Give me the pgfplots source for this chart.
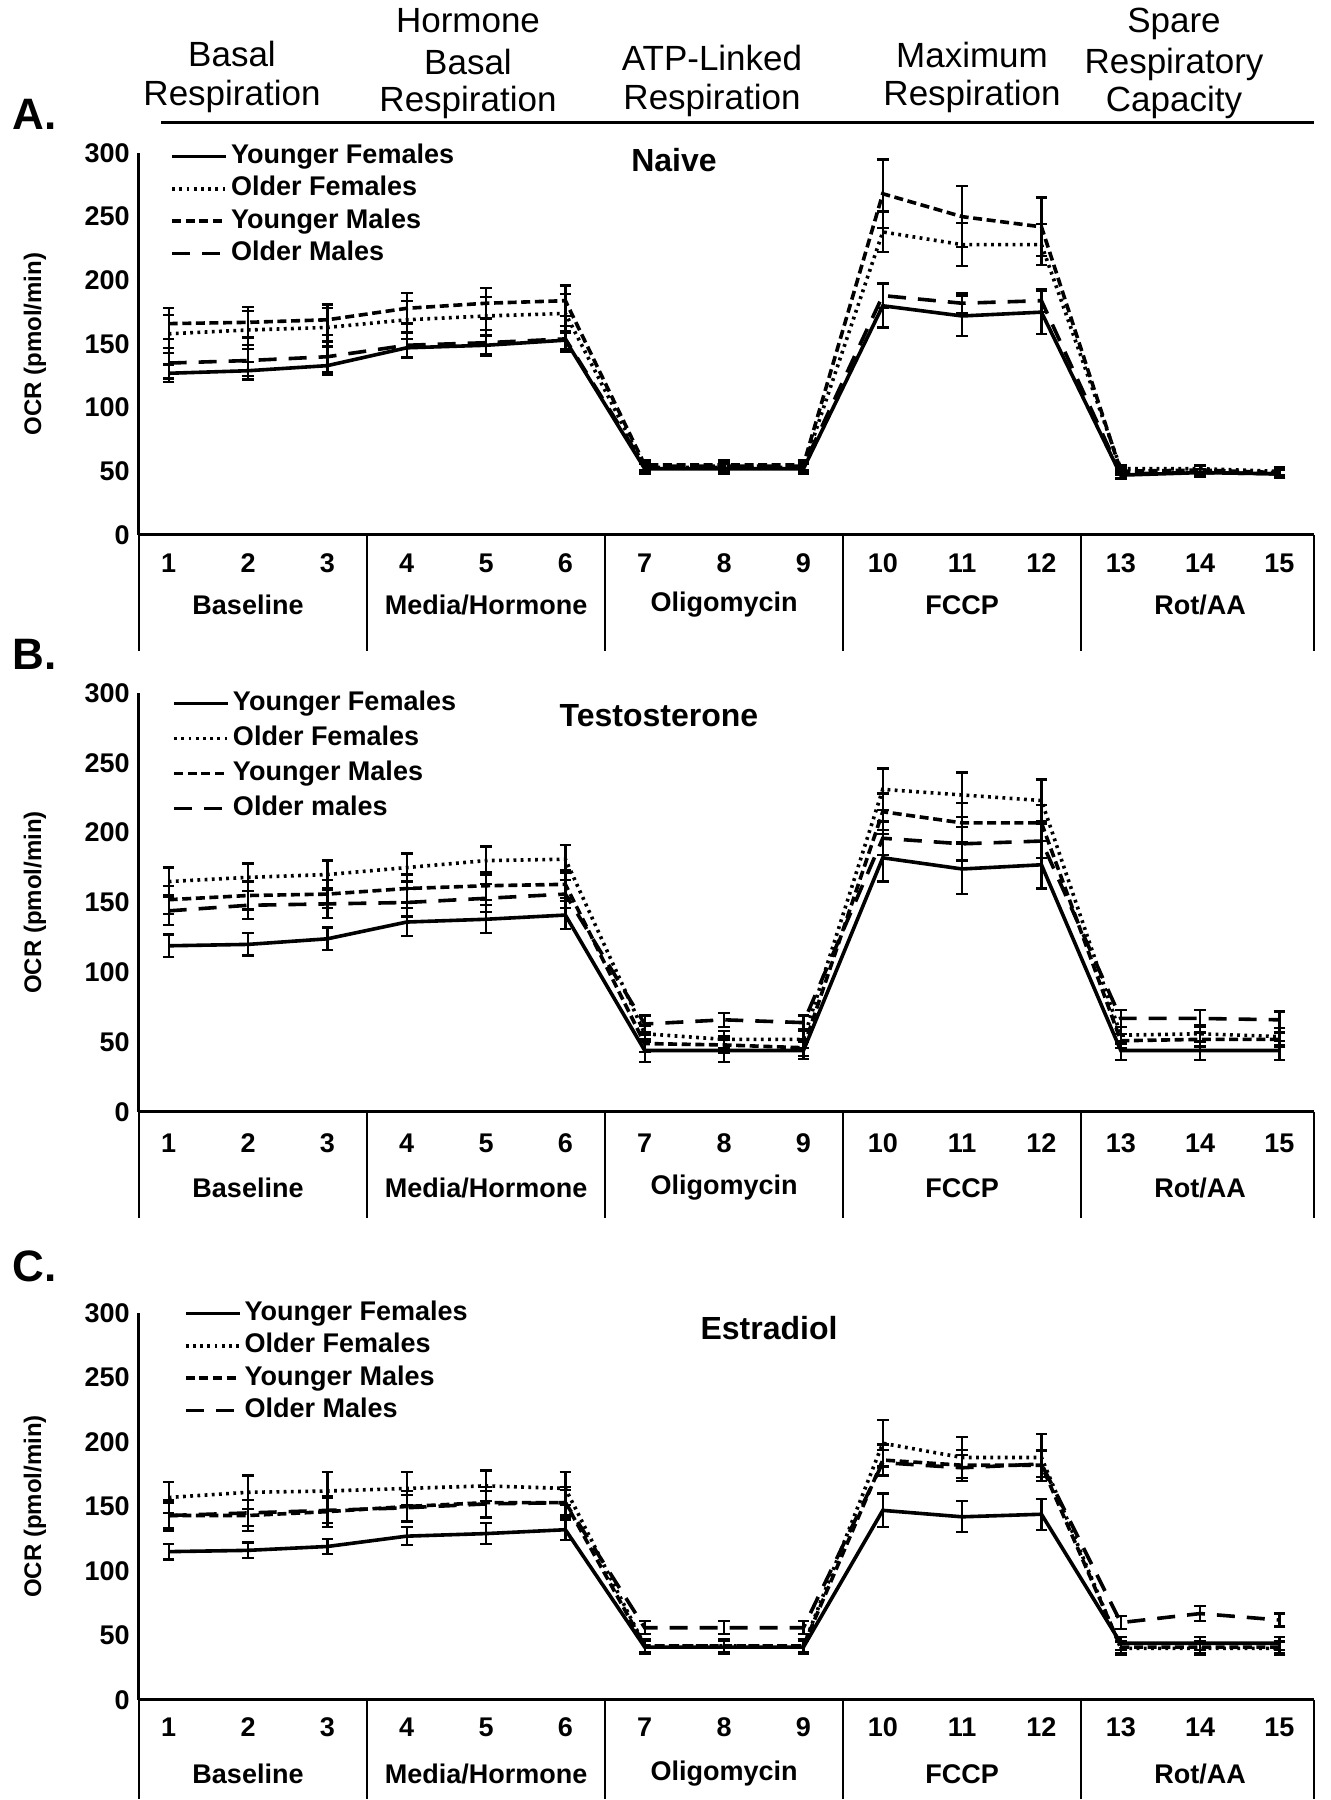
\documentclass[border=0pt]{standalone}
\usepackage{fontspec}
\setmainfont{Liberation Sans}
\usepackage{pgfplots}
\usepackage{pgfplotstable}
\pgfplotsset{compat=1.18}

\pgfplotstableread{
x  YF  eYF OF  eOF YM  eYM OM  eOM
1  127 7   158 15  166 12  135 12
2  129 7   161 15  167 12  137 12
3  133 7   163 15  169 12  140 12
4  147 7   169 15  178 12  149 10
5  149 7   172 15  182 12  151 10
6  153 7   174 15  184 12  154 10
7  52  4   53  4   55  4   54  4
8  52  4   53  4   55  4   54  4
9  52  4   53  4   55  4   54  4
10 180 17  238 16  268 27  188 10
11 172 16  228 17  250 24  182 8
12 175 17  228 16  242 23  184 9
13 47  3   52  3   50  3   48  3
14 49  3   52  3   51  3   49  3
15 48  3   50  3   49  3   48  3
}\dataA

\pgfplotstableread{
x  YF  eYF OF  eOF YM  eYM OM  eOM
1  119 8   165 10  152 10  144 10
2  120 8   168 10  155 10  148 10
3  124 8   170 10  156 10  149 10
4  136 10  175 10  160 10  150 10
5  138 10  180 10  162 10  153 10
6  141 10  181 10  163 10  156 10
7  44  8   56  6   49  6   63  6
8  44  8   52  6   48  6   66  5
9  44  6   52  6   46  6   64  5
10 182 17  231 15  215 13  196 12
11 174 18  227 16  207 14  192 12
12 177 17  223 15  207 13  194 12
13 44  7   55  6   51  5   67  6
14 44  7   56  6   52  5   67  6
15 44  7   54  6   52  5   66  6
}\dataB

\pgfplotstableread{
x  YF  eYF OF  eOF YM  eYM OM  eOM
1  115 6   157 12  143 12  143 10
2  116 6   161 13  143 12  145 10
3  119 6   162 15  146 12  147 10
4  127 7   164 13  150 12  149 10
5  129 8   166 12  153 12  152 10
6  132 8   164 13  153 12  153 10
7  41  5   42  5   42  5   56  5
8  41  5   42  5   42  5   56  5
9  41  5   42  5   42  5   56  5
10 147 13  199 18  186 12  184 10
11 142 12  188 16  182 12  180 10
12 144 12  188 18  182 12  183 10
13 44  5   40  5   41  5   60  5
14 44  5   40  5   41  5   67  6
15 44  5   40  5   41  5   62  5
}\dataC

\newcommand{\tickfont}{\bfseries\fontsize{13.5}{14}\selectfont}
\newcommand{\hdrfont}{\fontsize{17.5}{20}\selectfont}

\pgfplotsset{
  ocr/.style={
    scale only axis, width=587.5pt,
    xmin=0.626, xmax=15.435, ymin=0, ymax=300,
    axis x line=bottom, axis y line=left,
    axis line style={-, line width=1.5pt},
    xtick={1,...,15}, ytick={0,50,...,300},
    tick style={draw=none},
    /pgf/number format/assume math mode=true,
    ticklabel style={font=\tickfont},
    yticklabel style={xshift=1pt},
    xticklabel style={anchor=center},
    clip=false,
    ylabel={OCR (pmol/min)},
    every axis y label/.style={at={(axis description cs:-0.0885,0.5)}, anchor=center, rotate=90, font=\bfseries\fontsize{12}{12}\selectfont},
    legend cell align=left,
    legend image code/.code={\draw[##1] (0pt,0pt) -- (27pt,0pt);},
    error bars/y dir=both, error bars/y explicit,
    error bars/error bar style={solid, line width=1.15pt},
    error bars/error mark options={solid, rotate=90, mark size=2.9pt, line width=1.15pt},
  },
  lgd/.style n args={3}{legend style={at={(axis description cs:0,1)}, anchor=north west,
      xshift=#1, yshift=#2, draw=none, fill=none, inner sep=0pt, row sep=#3,
      font=\tickfont, nodes={inner xsep=1.5pt, inner ysep=0pt, text height=10pt, text depth=3pt}}},
  sYF/.style={line width=1.8pt, solid, no marks},
  sOF/.style={line width=1.8pt, dash pattern=on 1.4pt off 2.2pt, no marks},
  sYM/.style={line width=1.8pt, dash pattern=on 4.5pt off 2.3pt, no marks},
  sOM/.style={line width=1.8pt, dash pattern=on 9pt off 6pt, no marks},
}

\newcommand{\groups}[2]{%
  \draw[line width=1.3pt] (axis cs:0.626,0) -- ([yshift=-#1]axis cs:0.626,0);
  \draw[line width=1.3pt] (axis cs:3.5,0) -- ([yshift=-#1]axis cs:3.5,0);
  \draw[line width=1.3pt] (axis cs:6.5,0) -- ([yshift=-#1]axis cs:6.5,0);
  \draw[line width=1.3pt] (axis cs:9.5,0) -- ([yshift=-#1]axis cs:9.5,0);
  \draw[line width=1.3pt] (axis cs:12.5,0) -- ([yshift=-#1]axis cs:12.5,0);
  \draw[line width=1.3pt] (axis cs:15.435,0) -- ([yshift=-#1]axis cs:15.435,0);
  \node[font=\tickfont] at ([yshift=-#2]axis cs:2,0) {Baseline};
  \node[font=\tickfont] at ([yshift=-#2]axis cs:5,0) {Media/Hormone};
  \node[font=\tickfont] at ([yshift=-#2]axis cs:8,0) {Oligomycin};
  \node[font=\tickfont] at ([yshift=-#2]axis cs:11,0) {FCCP};
  \node[font=\tickfont] at ([yshift=-#2]axis cs:14,0) {Rot/AA};
}

\newcommand{\series}[1]{%
  \addplot[sYF] table[x=x, y=YF, y error=eYF] {#1};
  \addplot[sOF] table[x=x, y=OF, y error=eOF] {#1};
  \addplot[sYM] table[x=x, y=YM, y error=eYM] {#1};
  \addplot[sOM] table[x=x, y=OM, y error=eOM] {#1};
}

\begin{document}
\begin{tikzpicture}
\useasboundingbox (0pt,0pt) rectangle (665pt,900pt);

% header
\draw[line width=1.5pt] (80.5pt,838.5pt) -- (657pt,838.5pt);
\node[anchor=base, font=\hdrfont] at (116pt,866.5pt) {Basal};
\node[anchor=base, font=\hdrfont] at (116pt,847pt) {Respiration};
\node[anchor=base, font=\hdrfont] at (234pt,883.5pt) {Hormone};
\node[anchor=base, font=\hdrfont] at (234pt,862.5pt) {Basal};
\node[anchor=base, font=\hdrfont] at (234pt,844pt) {Respiration};
\node[anchor=base, font=\hdrfont] at (356pt,864.5pt) {ATP-Linked};
\node[anchor=base, font=\hdrfont] at (356pt,845pt) {Respiration};
\node[anchor=base, font=\hdrfont] at (486pt,866pt) {Maximum};
\node[anchor=base, font=\hdrfont] at (486pt,847pt) {Respiration};
\node[anchor=base, font=\hdrfont] at (587pt,883.5pt) {Spare};
\node[anchor=base, font=\hdrfont] at (587pt,863pt) {Respiratory};
\node[anchor=base, font=\hdrfont] at (587pt,844pt) {Capacity};

% panel letters
\node[anchor=base west, inner sep=0pt, font=\bfseries\fontsize{22}{22}\selectfont] at (6pt,835pt) {A.};
\node[anchor=base west, inner sep=0pt, font=\bfseries\fontsize{22}{22}\selectfont] at (6pt,565pt) {B.};
\node[anchor=base west, inner sep=0pt, font=\bfseries\fontsize{22}{22}\selectfont] at (6pt,259pt) {C.};

% titles
\node[anchor=base, font=\bfseries\fontsize{16}{16}\selectfont] at (337pt,814pt) {Naive};
\node[anchor=base, font=\bfseries\fontsize{16}{16}\selectfont] at (329.5pt,536.5pt) {Testosterone};
\node[anchor=base, font=\bfseries\fontsize{16}{16}\selectfont] at (384.5pt,230pt) {Estradiol};

% Panel A
\begin{axis}[ocr, at={(69.5pt,632.5pt)}, anchor=south west, height=191pt,
  xticklabel style={yshift=-12pt}, lgd={15.5pt}{5pt}{3.2pt}]
\series{\dataA}
\legend{Younger Females, Older Females, Younger Males, Older Males}
\groups{58pt}{35pt}
\end{axis}

% Panel B
\begin{axis}[ocr, at={(69.5pt,344pt)}, anchor=south west, height=209.5pt,
  xticklabel style={yshift=-13.5pt}, lgd={16.5pt}{1.5pt}{4.5pt}]
\series{\dataB}
\legend{Younger Females, Older Females, Younger Males, Older males}
\groups{53pt}{38pt}
\end{axis}

% Panel C
\begin{axis}[ocr, at={(69.5pt,50pt)}, anchor=south west, height=193.5pt,
  xticklabel style={yshift=-11.5pt}, lgd={22.3pt}{6.5pt}{3.2pt}]
\series{\dataC}
\legend{Younger Females, Older Females, Younger Males, Older Males}
\groups{49.5pt}{37pt}
\end{axis}
\end{tikzpicture}
\end{document}
